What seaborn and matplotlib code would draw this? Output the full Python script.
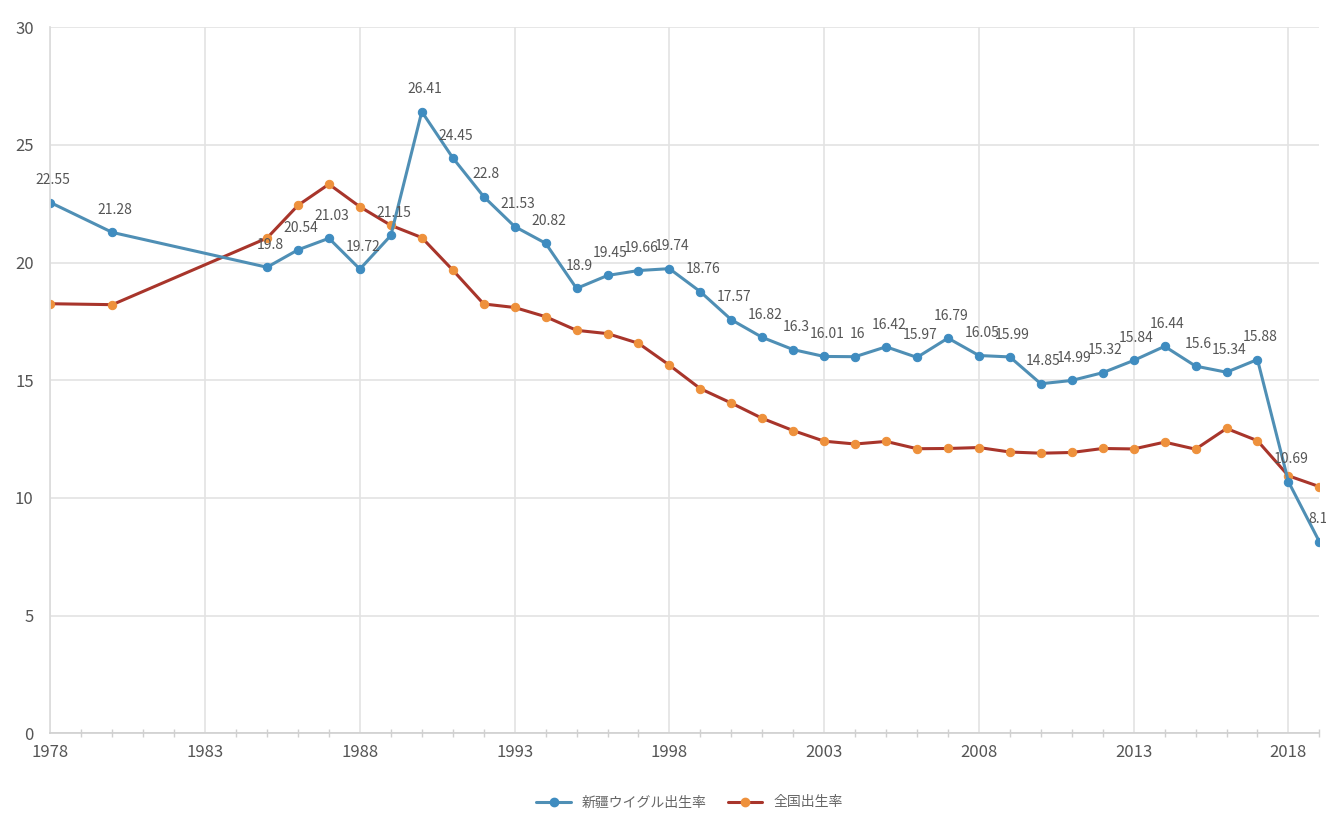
import warnings
import pandas as pd
import seaborn as sns
import matplotlib.pyplot as plt
from matplotlib.lines import Line2D
from matplotlib.ticker import MultipleLocator

warnings.filterwarnings("ignore")
sns.set_theme(style = "whitegrid")
plt.rcParams['font.family'] = ['Liberation Sans Narrow', 'Noto Sans CJK JP', 'DejaVu Sans']

# birth rate (per mille): Xinjiang vs. national
years = [1978, 1980, 1985, 1986, 1987, 1988, 1989, 1990, 1991, 1992, 1993, 1994,
         1995, 1996, 1997, 1998, 1999, 2000, 2001, 2002, 2003, 2004, 2005, 2006,
         2007, 2008, 2009, 2010, 2011, 2012, 2013, 2014, 2015, 2016, 2017, 2018, 2019]
xinjiang = [22.55, 21.28, 19.8, 20.54, 21.03, 19.72, 21.15, 26.41, 24.45, 22.8, 21.53, 20.82,
            18.9, 19.45, 19.66, 19.74, 18.76, 17.57, 16.82, 16.3, 16.01, 16, 16.42, 15.97,
            16.79, 16.05, 15.99, 14.85, 14.99, 15.32, 15.84, 16.44, 15.6, 15.34, 15.88, 10.69, 8.14]
national = [18.25, 18.21, 21.04, 22.43, 23.33, 22.37, 21.58, 21.06, 19.68, 18.24, 18.09, 17.70,
            17.12, 16.98, 16.57, 15.64, 14.64, 14.03, 13.38, 12.86, 12.41, 12.29, 12.40, 12.09,
            12.10, 12.14, 11.95, 11.90, 11.93, 12.10, 12.08, 12.37, 12.07, 12.95, 12.43, 10.94, 10.48]
labels = ["新疆ウイグル出生率", "全国出生率"]

df = pd.DataFrame({"year": years, "xj": xinjiang, "cn": national})

blue_line, blue_dot = "#4f8fb5", "#3f8cc0"
red_line, orange_dot = "#a8352b", "#ee913c"

fig = plt.figure(figsize = (13.26, 8.23), dpi = 100)
ax = fig.add_axes([0.038, 0.109, 0.957, 0.858])

sns.lineplot(data = df, x = "year", y = "cn", ax = ax, color = red_line, linewidth = 2.2,
             marker = "o", markersize = 6, markerfacecolor = orange_dot, markeredgecolor = orange_dot)
sns.lineplot(data = df, x = "year", y = "xj", ax = ax, color = blue_line, linewidth = 2.2,
             marker = "o", markersize = 6, markerfacecolor = blue_dot, markeredgecolor = blue_dot)

for x, y in zip(years, xinjiang):
    ax.annotate(f"{y:g}", (x, y), xytext = (2, 11), textcoords = "offset points",
                ha = "center", va = "bottom", fontsize = 10, color = "#555555")

ax.set_xlim(1978, 2019)
ax.set_ylim(0, 30)
ax.xaxis.set_major_locator(MultipleLocator(5, offset = 3))
ax.xaxis.set_minor_locator(MultipleLocator(1))
ax.yaxis.set_major_locator(MultipleLocator(5))
ax.set_xlabel("")
ax.set_ylabel("")

ax.grid(True, which = "major", color = "#e3e3e3", linewidth = 1.2)
ax.grid(False, which = "minor")
for side in ["top", "right"]:
    ax.spines[side].set_visible(False)
ax.spines["left"].set_color("#dcdcdc")
ax.spines["bottom"].set_color("#cfcfcf")
ax.spines["bottom"].set_linewidth(1.2)
ax.tick_params(axis = "y", length = 0, labelsize = 12, labelcolor = "#555555", pad = 12)
ax.tick_params(axis = "x", which = "major", length = 0, labelsize = 12, labelcolor = "#555555", pad = 8)
ax.tick_params(axis = "x", which = "minor", bottom = True, direction = "inout", length = 6,
               color = "#d0d0d0", width = 1)

handles = [Line2D([], [], color = blue_line, lw = 2.2, marker = "o", markersize = 6,
                  markerfacecolor = blue_dot, markeredgecolor = blue_dot),
           Line2D([], [], color = red_line, lw = 2.2, marker = "o", markersize = 6,
                  markerfacecolor = orange_dot, markeredgecolor = orange_dot)]
leg = fig.legend(handles, labels, loc = "center", bbox_to_anchor = (0.52, 0.025), ncol = 2,
                 frameon = False, fontsize = 10, handlelength = 2.5, columnspacing = 1.5)
for t in leg.get_texts():
    t.set_color("#666666")

fig.savefig("out.png", dpi = 100)
